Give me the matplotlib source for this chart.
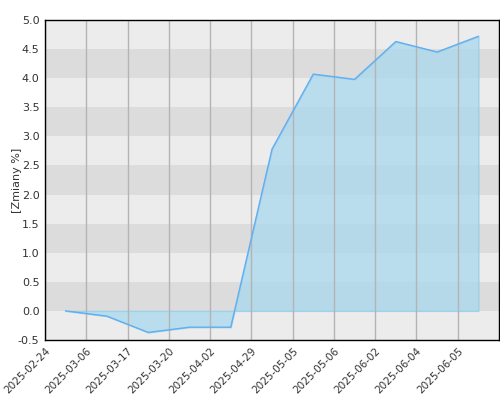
import numpy as np
import matplotlib.pyplot as plt

# daty na osi x (etykiety) i wartosci zmian w %
daty = ["2025-02-24", "2025-03-06", "2025-03-17", "2025-03-20", "2025-04-02",
        "2025-04-29", "2025-05-05", "2025-05-06", "2025-06-02", "2025-06-04",
        "2025-06-05"]
zmiany = [0.0, -0.09, -0.37, -0.28, -0.28, 2.78, 4.07, 3.98, 4.63, 4.45, 4.72]

fig = plt.figure(figsize=(5, 4), dpi=100)
ax = fig.add_axes([0.09, 0.15, 0.908, 0.80])

# pasy tla
for k, y0 in enumerate(np.arange(-0.5, 5.0, 0.5)):
    kolor = "#dcdcdc" if k % 2 == 1 else "#ececec"
    ax.axhspan(y0, y0 + 0.5, color=kolor, lw=0, zorder=0)

x = np.arange(len(zmiany)) + 0.5
ax.fill_between(x, 0, zmiany, color="#a9d8ee", alpha=0.75, edgecolor="#8ccbeb",
                lw=1, zorder=2)
ax.plot(x, zmiany, color="#62aef0", lw=1, zorder=3)

ax.set_xlim(0, len(zmiany))
ax.set_ylim(-0.5, 5.0)
ax.set_xticks(np.arange(len(daty)))
ax.set_xticklabels(daty, rotation=45, ha="right", rotation_mode="anchor",
                   fontsize=7.5, color="#333333")
ax.set_yticks(np.arange(-0.5, 5.01, 0.5))
ax.set_yticklabels([f"{v:.1f}" for v in np.arange(-0.5, 5.01, 0.5)],
                   fontsize=8, color="#333333")
ax.tick_params(length=0, pad=4)
ax.grid(axis="x", color="#b4b4b4", lw=1, zorder=1)
ax.set_axisbelow(False)
for s in ax.spines.values():
    s.set_color("black")
    s.set_linewidth(1)
    s.set_zorder(5)

ax.set_ylabel("[Zmiany %]", fontsize=8, color="#333333", labelpad=-3)

plt.savefig("out.png")
